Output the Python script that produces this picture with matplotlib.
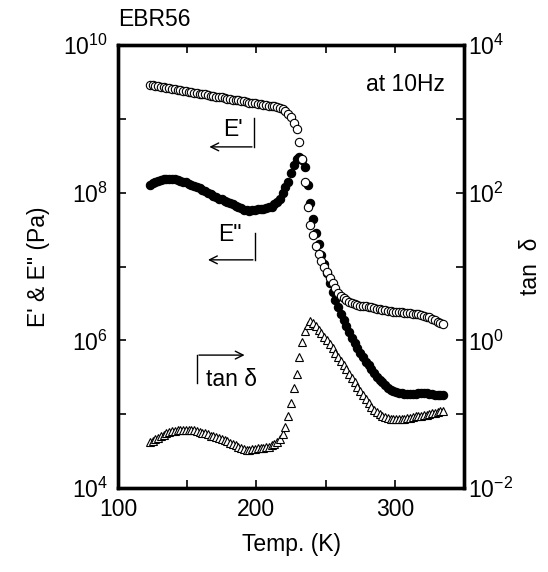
import matplotlib
matplotlib.use("Agg")
import matplotlib.pyplot as plt
import numpy as np

plt.rcParams['font.family'] = ['Liberation Sans', 'DejaVu Sans']
plt.rcParams['mathtext.fontset'] = 'custom'
plt.rcParams['mathtext.rm'] = 'Liberation Sans'
plt.rcParams['mathtext.it'] = 'Liberation Sans:italic'
plt.rcParams['mathtext.default'] = 'regular'

# Temperature (K)
temperature = [
    123, 125, 127, 129, 131, 133, 135, 137, 139, 141, 143, 145, 147, 149, 151, 153,
    155, 157, 159, 161, 163, 165, 167, 169, 171, 173, 175, 177, 179, 181, 183, 185,
    187, 189, 191, 193, 195, 197, 199, 201, 203, 205, 207, 209, 211, 213, 215, 217,
    219, 221, 223, 225, 227, 229, 231, 233, 235, 237, 239, 241, 243, 245, 247, 249,
    251, 253, 255, 257, 259, 261, 263, 265, 267, 269, 271, 273, 275, 277, 279, 281,
    283, 285, 287, 289, 291, 293, 295, 297, 299, 301, 303, 305, 307, 309, 311, 313,
    315, 317, 319, 321, 323, 325, 327, 329, 331, 333, 335]

# log10 of storage modulus E' (Pa)
log_E_storage = [
    9.46, 9.455, 9.45, 9.44, 9.435, 9.43, 9.42, 9.415, 9.41, 9.40, 9.395, 9.39, 9.38, 9.375, 9.37, 9.36,
    9.355, 9.35, 9.34, 9.335, 9.33, 9.32, 9.315, 9.31, 9.30, 9.295, 9.29, 9.28, 9.275, 9.27, 9.26, 9.255,
    9.25, 9.24, 9.235, 9.23, 9.22, 9.215, 9.21, 9.20, 9.195, 9.19, 9.185, 9.18, 9.175, 9.17, 9.16, 9.15,
    9.13, 9.10, 9.06, 9.02, 8.95, 8.86, 8.68, 8.45, 8.15, 7.80, 7.56, 7.42, 7.28, 7.17, 7.08, 7.00,
    6.92, 6.85, 6.78, 6.71, 6.64, 6.60, 6.57, 6.54, 6.52, 6.50, 6.49, 6.48, 6.47, 6.465, 6.46, 6.45,
    6.445, 6.44, 6.43, 6.42, 6.41, 6.41, 6.40, 6.40, 6.39, 6.39, 6.38, 6.38, 6.375, 6.37, 6.37, 6.36,
    6.355, 6.35, 6.34, 6.33, 6.32, 6.31, 6.29, 6.27, 6.25, 6.235, 6.22]

# log10 of loss modulus E'' (Pa)
log_E_loss = [
    8.10, 8.13, 8.15, 8.16, 8.17, 8.18, 8.19, 8.19, 8.185, 8.18, 8.17, 8.16, 8.15, 8.14, 8.12, 8.10,
    8.09, 8.07, 8.06, 8.04, 8.02, 8.00, 7.98, 7.96, 7.94, 7.92, 7.91, 7.89, 7.88, 7.86, 7.85, 7.82,
    7.80, 7.79, 7.77, 7.76, 7.75, 7.76, 7.77, 7.775, 7.78, 7.785, 7.79, 7.80, 7.81, 7.84, 7.87, 7.92,
    7.99, 8.07, 8.15, 8.26, 8.37, 8.45, 8.48, 8.44, 8.35, 8.10, 7.86, 7.65, 7.45, 7.30, 7.16, 7.03,
    6.91, 6.78, 6.66, 6.55, 6.45, 6.35, 6.27, 6.19, 6.11, 6.03, 5.96, 5.90, 5.83, 5.77, 5.71, 5.66,
    5.61, 5.56, 5.51, 5.46, 5.43, 5.39, 5.36, 5.33, 5.31, 5.30, 5.29, 5.28, 5.275, 5.27, 5.27, 5.27,
    5.275, 5.28, 5.28, 5.28, 5.28, 5.275, 5.27, 5.265, 5.26, 5.26, 5.26]

# log10 of tan delta
log_tan_delta = [
    -1.38, -1.36, -1.34, -1.32, -1.30, -1.28, -1.26, -1.245, -1.23, -1.225, -1.22, -1.215, -1.21, -1.21, -1.21, -1.215,
    -1.22, -1.23, -1.24, -1.25, -1.26, -1.275, -1.29, -1.30, -1.31, -1.325, -1.34, -1.355, -1.37, -1.385, -1.40, -1.42,
    -1.44, -1.455, -1.47, -1.48, -1.48, -1.475, -1.47, -1.465, -1.46, -1.455, -1.45, -1.44, -1.42, -1.40, -1.38, -1.34,
    -1.27, -1.17, -1.02, -0.85, -0.65, -0.45, -0.22, -0.02, 0.12, 0.21, 0.26, 0.24, 0.19, 0.14, 0.10, 0.05,
    0.00, -0.05, -0.11, -0.17, -0.22, -0.28, -0.33, -0.39, -0.45, -0.51, -0.57, -0.63, -0.68, -0.74, -0.80, -0.85,
    -0.90, -0.94, -0.97, -1.00, -1.02, -1.04, -1.05, -1.06, -1.06, -1.07, -1.07, -1.06, -1.06, -1.05, -1.05, -1.04,
    -1.03, -1.02, -1.02, -1.01, -1.01, -1.00, -0.99, -0.98, -0.97, -0.96, -0.96]

left_ticks = [1e4, 1e5, 1e6, 1e7, 1e8, 1e9, 1e10]
left_labels = ['$10^{4}$', '', '$10^{6}$', '', '$10^{8}$', '', '$10^{10}$']
right_ticks = [1e-2, 1e-1, 1e0, 1e1, 1e2, 1e3, 1e4]
right_labels = ['$10^{-2}$', '', '$10^{0}$', '', '$10^{2}$', '', '$10^{4}$']
x_ticks = [100, 150, 200, 250, 300, 350]
x_labels = ['100', '', '200', '', '300', '']

T = np.array(temperature)
E1 = 10 ** np.array(log_E_storage)
E2 = 10 ** np.array(log_E_loss)
TD = 10 ** np.array(log_tan_delta)

fig = plt.figure(figsize=(5.48, 5.72), dpi=100)
ax = fig.add_axes([118 / 548, 1 - 488 / 572, 346 / 548, 443 / 572])
ax.set_yscale('log')
ax.set_xlim(100, 350)
ax.set_ylim(1e4, 1e10)

ms = 6
ax.plot(T, E2, 'o', ms=ms, mfc='black', mec='black', mew=0.8, zorder=3)
ax.plot(T, E1, 'o', ms=ms, mfc='white', mec='black', mew=0.8, zorder=4)

ax2 = ax.twinx()
ax2.set_yscale('log')
ax2.set_ylim(1e-2, 1e4)
ax2.plot(T, TD, '^', ms=ms, mfc='white', mec='black', mew=0.8, zorder=3)

fs = 16.5
ax.set_xticks(x_ticks)
ax.set_xticklabels(x_labels)
ax.set_yticks(left_ticks)
ax.set_yticklabels(left_labels)
ax.yaxis.set_minor_locator(matplotlib.ticker.NullLocator())
ax2.set_yticks(right_ticks)
ax2.set_yticklabels(right_labels)
ax2.yaxis.set_minor_locator(matplotlib.ticker.NullLocator())

ax.tick_params(axis='both', which='major', direction='in', length=6, width=1.2,
               labelsize=fs, top=True, right=False, pad=7)
ax2.tick_params(axis='y', which='major', direction='in', length=6, width=1.2,
                labelsize=fs, pad=3)
for a in (ax, ax2):
    for s in a.spines.values():
        s.set_linewidth(2.4)

ax.set_xlabel('Temp. (K)', fontsize=fs, labelpad=9)
ax.set_ylabel('E\' & E" (Pa)', fontsize=fs, labelpad=10)
ax2.set_ylabel('tan  δ', fontsize=fs, labelpad=4)

fig.text(118 / 548, 1 - 19 / 572, 'EBR56', fontsize=fs, ha='left', va='center')
ax.text(0.945, 0.91, 'at 10Hz', transform=ax.transAxes, fontsize=fs, ha='right', va='center')

# E' annotation
ax.text(183, 10 ** 8.86, "E'", fontsize=fs, ha='center', va='center')
ax.plot([198.3, 198.3], [10 ** 9.01, 10 ** 8.62], color='black', lw=1)
ax.annotate('', xy=(164, 10 ** 8.62), xytext=(198.8, 10 ** 8.62),
            arrowprops=dict(arrowstyle='->', color='black', lw=1, mutation_scale=14))
# E'' annotation
ax.text(181, 10 ** 7.43, 'E"', fontsize=fs, ha='center', va='center')
ax.plot([199, 199], [10 ** 7.46, 10 ** 7.09], color='black', lw=1)
ax.annotate('', xy=(163, 10 ** 7.09), xytext=(199.5, 10 ** 7.09),
            arrowprops=dict(arrowstyle='->', color='black', lw=1, mutation_scale=14))
# tan delta annotation
ax.plot([157, 157], [10 ** 5.42, 10 ** 5.80], color='black', lw=1)
ax.annotate('', xy=(193.5, 10 ** 5.80), xytext=(156.5, 10 ** 5.80),
            arrowprops=dict(arrowstyle='->', color='black', lw=1, mutation_scale=14))
ax.text(163.5, 10 ** 5.47, 'tan δ', fontsize=fs, ha='left', va='center')

fig.save_fig = None
fig.savefig('out.png', dpi=100)
